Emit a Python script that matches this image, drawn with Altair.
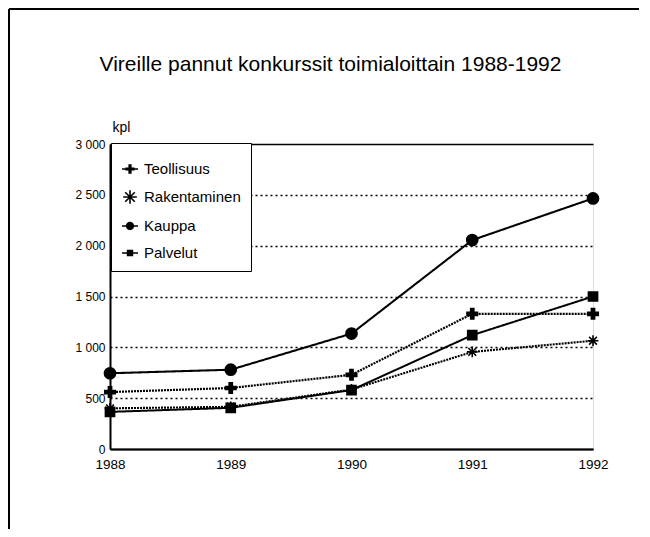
import altair as alt
import pandas as pd

years = [1988, 1989, 1990, 1991, 1992]
series_names = ["Teollisuus", "Rakentaminen", "Kauppa", "Palvelut"]
teollisuus = [560, 600, 730, 1330, 1330]
rakentaminen = [400, 415, 585, 955, 1065]
kauppa = [745, 780, 1135, 2055, 2465]
palvelut = [365, 405, 580, 1120, 1500]
y_ticks = [0, 500, 1000, 1500, 2000, 2500, 3000]

values = {"Teollisuus": teollisuus, "Rakentaminen": rakentaminen,
          "Kauppa": kauppa, "Palvelut": palvelut}
rows = []
for name in series_names:
    for yr, v in zip(years, values[name]):
        rows.append({"vuosi": yr, "kpl": v, "sarja": name})
df = pd.DataFrame(rows)

FONT = "Liberation Sans"

# marker shapes on the chart
cross = "M-0.3,-1H0.3V-0.3H1V0.3H0.3V1H-0.3V0.3H-1V-0.3H-0.3Z"
aster = "M-1,0H1M0,-1V1M-0.72,-0.72L0.72,0.72M-0.72,0.72L0.72,-0.72"
circ = "M-1,0A1,1 0 1,0 1,0A1,1 0 1,0 -1,0Z"
sq = "M-0.8,-0.8H0.8V0.8H-0.8Z"

# legend symbols (fill-only paths): marker with a short line through it
lg_line = "M-1,-0.1H1V0.1H-1Z"
lg_cross = lg_line + "M-0.2,-0.58H0.2V-0.2H0.58V0.2H0.2V0.58H-0.2V0.2H-0.58V-0.2H-0.2Z"
lg_aster = ("M-0.85,-0.1H0.85V0.1H-0.85Z"
            "M0.1,-0.85V0.85H-0.1V-0.85Z"
            "M-0.53,-0.67L0.67,0.53L0.53,0.67L-0.67,-0.53Z"
            "M-0.67,0.53L0.53,-0.67L0.67,-0.53L-0.53,0.67Z")
lg_circ = lg_line + "M-0.52,0A0.52,0.52 0 1,1 0.52,0A0.52,0.52 0 1,1 -0.52,0Z"
lg_sq = lg_line + "M-0.4,-0.4H0.4V0.4H-0.4Z"

grid_dash = {"condition": {"test": "datum.value == 0 || datum.value == 3000", "value": [1, 0]},
             "value": [2, 3]}

x_enc = alt.X("vuosi:Q", scale=alt.Scale(domain=[1988, 1992], nice=False, zero=False),
              axis=alt.Axis(values=years, format="d", title=None, grid=False, ticks=False,
                            domainColor="black", domainWidth=2, labelFontSize=13.5,
                            labelPadding=8, labelColor="black", labelFont=FONT,
                            labelFlush=False))
y_enc = alt.Y("kpl:Q", scale=alt.Scale(domain=[0, 3000], nice=False),
              axis=alt.Axis(values=y_ticks, title="kpl", titleAngle=0, titleAlign="left",
                            titleBaseline="alphabetic", titleX=2, titleY=-13,
                            titleFontSize=14, titleFontWeight="normal", titleFont=FONT,
                            titleColor="black",
                            labelExpr="replace(format(datum.value, ','), ',', ' ')",
                            labelFontSize=12, labelPadding=5, labelColor="black",
                            labelFont=FONT, ticks=False, domainColor="black",
                            domainWidth=2, grid=True, gridColor="black",
                            gridDash=grid_dash, gridWidth=1.5, gridOpacity=1))

base = alt.Chart(df)

lines = base.mark_line(color="black").encode(
    x=x_enc, y=y_enc,
    detail="sarja:N",
    strokeDash=alt.StrokeDash("sarja:N", scale=alt.Scale(
        domain=series_names, range=[[2, 1], [2, 1], [1, 0], [1, 0]]), legend=None),
    strokeWidth=alt.StrokeWidth("sarja:N", scale=alt.Scale(
        domain=series_names, range=[2.2, 2.0, 3.2, 3.0]), legend=None),
)

points = base.mark_point(filled=True, fill="black", stroke="black", strokeWidth=1.6,
                         opacity=1).encode(
    x="vuosi:Q", y="kpl:Q",
    shape=alt.Shape("sarja:N", scale=alt.Scale(domain=series_names,
                                               range=[cross, aster, circ, sq]), legend=None),
    size=alt.Size("sarja:N", scale=alt.Scale(domain=series_names,
                                             range=[110, 130, 130, 80]), legend=None),
)

legend_layer = base.mark_point(filled=True, color="black", fill="black", opacity=0).encode(
    x="vuosi:Q", y="kpl:Q",
    shape=alt.Shape("sarja:N", scale=alt.Scale(domain=series_names,
                                               range=[lg_cross, lg_aster, lg_circ, lg_sq]),
                    legend=alt.Legend(orient="none", legendX=1, legendY=-1, title=" ",
                                      titleFontSize=6, titlePadding=1,
                                      padding=10, fillColor="white", strokeColor="black",
                                      symbolSize=256, symbolOpacity=1,
                                      symbolFillColor="black", labelFontSize=15,
                                      labelFont=FONT, labelColor="black", labelOffset=5,
                                      rowPadding=10, labelLimit=300)),
)

frame_df = pd.DataFrame({"a": [0]})
frame_top = alt.Chart(frame_df).mark_rule(color="black", strokeWidth=2).encode(
    x=alt.value(-101), x2=alt.value(529), y=alt.value(-135))
frame_left = alt.Chart(frame_df).mark_rule(color="black", strokeWidth=2).encode(
    x=alt.value(-101), y=alt.value(-135), y2=alt.value(400))

chart = alt.layer(frame_top, frame_left, lines, points, legend_layer).resolve_scale(
    shape="independent", size="independent"
).properties(
    width=483, height=305,
    autosize=alt.AutoSizeParams(type="none"),
    padding={"left": 102, "top": 136, "right": 49, "bottom": 80},
    title=alt.TitleParams("Vireille pannut konkurssit toimialoittain 1988-1992",
                          fontSize=21, font=FONT, fontWeight="normal", color="black",
                          anchor="middle", frame="group", offset=0, dy=67, dx=-21),
).configure_view(stroke="black", strokeWidth=2).configure(background="white")

chart.save("out.html", embed_options={"renderer": "svg", "actions": False})
